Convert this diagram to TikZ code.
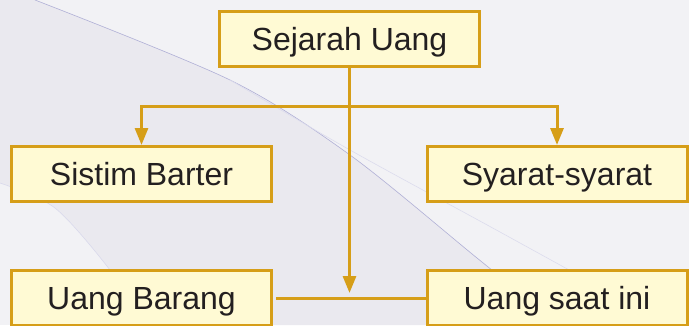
\documentclass[tikz,border=0pt]{standalone}
\usepackage{fontspec}
\setmainfont{Liberation Sans}
\usetikzlibrary{arrows.meta}
\definecolor{rand}{RGB}{214,158,24}
\definecolor{fuell}{RGB}{255,250,212}
\definecolor{hell}{RGB}{242,242,245}
\definecolor{dunkel}{RGB}{234,233,239}
\definecolor{linie}{RGB}{176,176,214}
\definecolor{schrift}{RGB}{35,31,32}
\begin{document}
\begin{tikzpicture}[x=1pt,y=1pt,>={Triangle[length=17pt,width=13pt]}]
        \useasboundingbox (0,0) rectangle (689,325);

        % Hintergrund
        \fill[hell] (0,0) rectangle (689,325);
        \fill[dunkel] (0,325) -- plot[smooth] coordinates {(35,325) (230,245) (350,170) (477,67) (560,0)}
            -- plot[smooth] coordinates {(145,0) (110,55) (55,117) (0,142)} -- cycle;
        \draw[linie, line width=0.6pt] plot[smooth] coordinates {(35,325) (230,245) (350,170) (477,67) (560,0)};
        \draw[linie!45, line width=0.6pt] plot[smooth] coordinates {(230,245) (350,175) (500,93) (689,-11)};
        \draw[linie!50, line width=0.5pt] plot[smooth] coordinates {(0,142) (55,117) (110,55) (145,0)};

        \begin{scope}[every node/.style={draw=rand,fill=fuell,line width=3pt,minimum width=260pt,minimum height=55pt,text height=23pt,text depth=0pt,text=schrift,font=\fontsize{32}{38}\selectfont}]
            \node (S) at (349.5,286) {Sejarah Uang};
            \node (B) at (141.5,151) {Sistim Barter};
            \node (Y) at (557,151) {Syarat-syarat};
            \node (G) at (141.5,27) {Uang Barang};
            \node (N) at (557,27) {Uang saat ini};
        \end{scope}

        % Verbindungen
        \coordinate (K) at (349.5,219);
        \coordinate (T) at (349.5,32);
        \begin{scope}[rand,line width=3pt]
            \draw[->] (S.south) -- (T);
            \draw[->] (K) -| (B.north);
            \draw[->] (K) -| (Y.north);
            \draw ([xshift=3pt]G.east) -- (N.west);
        \end{scope}
    \end{tikzpicture}
\end{document}
